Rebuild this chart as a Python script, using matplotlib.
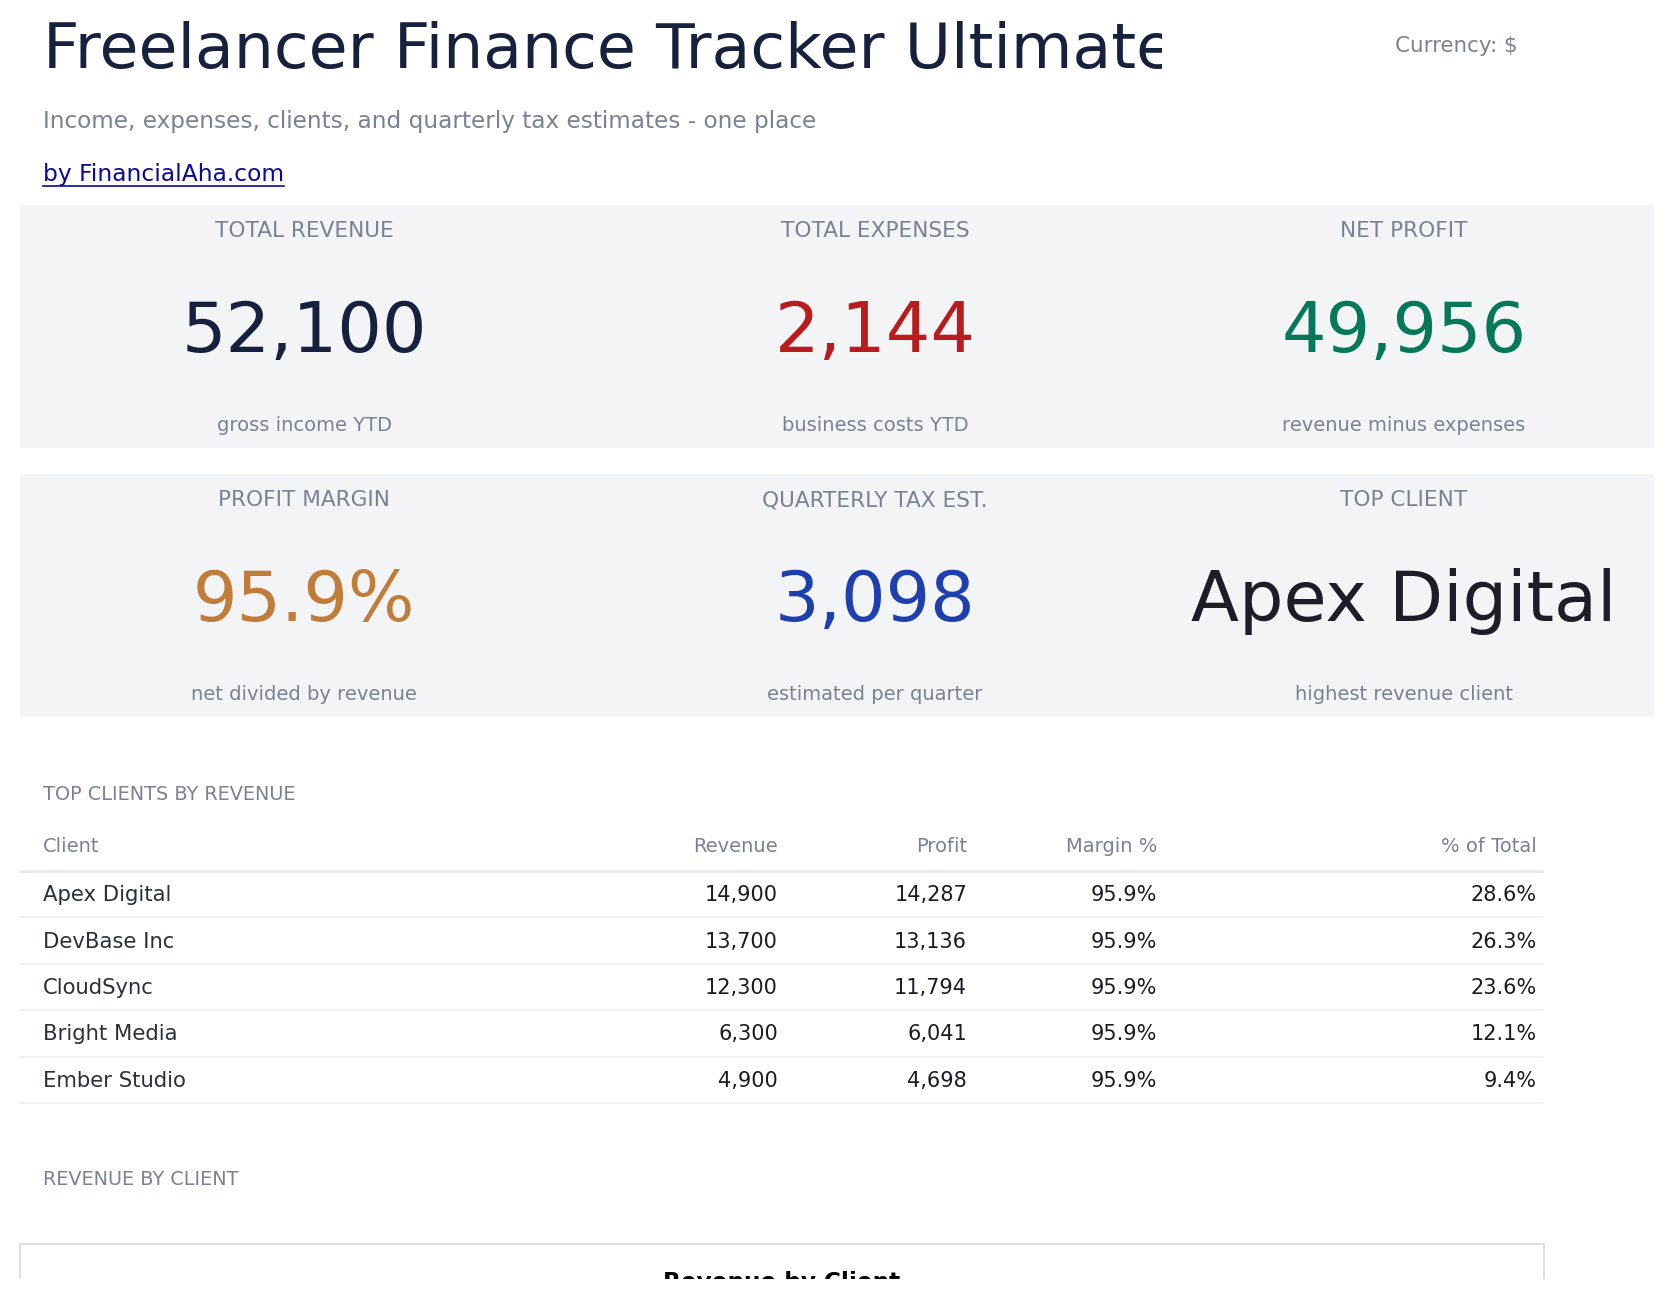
import matplotlib
matplotlib.use("Agg")
import matplotlib.pyplot as plt
import matplotlib.patches as patches

# KPI cards
kpi_labels = ["TOTAL REVENUE", "TOTAL EXPENSES", "NET PROFIT",
              "PROFIT MARGIN", "QUARTERLY TAX EST.", "TOP CLIENT"]
kpi_values = ["52,100", "2,144", "49,956", "95.9%", "3,098", "Apex Digital"]
kpi_notes = ["gross income YTD", "business costs YTD", "revenue minus expenses",
             "net divided by revenue", "estimated per quarter", "highest revenue client"]
kpi_colors = ["#16213e", "#b91c1c", "#047857", "#c27c3a", "#1e40af", "#1c1d26"]

# top clients table
clients = ["Apex Digital", "DevBase Inc", "CloudSync", "Bright Media", "Ember Studio"]
revenue = [14900, 13700, 12300, 6300, 4900]
profit = [14287, 13136, 11794, 6041, 4698]
margin = [95.9, 95.9, 95.9, 95.9, 95.9]
share = [28.6, 26.3, 23.6, 12.1, 9.4]
headers = ["Client", "Revenue", "Profit", "Margin %", "% of Total"]

W, H = 1669, 1299
fig = plt.figure(figsize=(W / 100, H / 100), dpi=100)
ax = fig.add_axes([0, 0, 1, 1])
ax.set_xlim(0, W)
ax.set_ylim(H, 0)
ax.axis('off')

GRAY = "#7a8194"

# header - title is cut off on the right like in the page
ax.text(43, 68, "Freelancer Finance Tracker Ultimate", fontsize=45.5,
        color="#16213e", va='baseline', ha='left')
ax.add_patch(patches.Rectangle((1162, 0), 130, 100, facecolor='white',
                               edgecolor='none', zorder=5))
ax.text(1517, 52, "Currency: $", fontsize=15.4, color=GRAY, ha='right', va='baseline')
ax.text(43, 128, "Income, expenses, clients, and quarterly tax estimates - one place",
        fontsize=16.7, color=GRAY, va='baseline')
link = ax.text(43, 181, "by FinancialAha.com", fontsize=16.8, color="#0a0a96", va='baseline')
fig.canvas.draw()
bb = link.get_window_extent(fig.canvas.get_renderer())
ax.plot([43, 43 + bb.width], [186, 186], color="#0a0a96", lw=1.2)

# KPI panels
col_x = [304, 875, 1404]
row_top = [205, 474]
for r, top in enumerate(row_top):
    ax.add_patch(patches.Rectangle((20, top), 1634, 243, facecolor="#f3f4f6",
                                   edgecolor='none', zorder=0))
    for c, cx in enumerate(col_x):
        i = r * 3 + c
        ax.text(cx, top + 32, kpi_labels[i], fontsize=15.6, color=GRAY,
                ha='center', va='baseline')
        ax.text(cx, top + 147, kpi_values[i], fontsize=50.5, color=kpi_colors[i],
                ha='center', va='baseline')
        ax.text(cx, top + 226, kpi_notes[i], fontsize=14, color=GRAY,
                ha='center', va='baseline')

# table
ax.text(43, 800, "TOP CLIENTS BY REVENUE", fontsize=13.9, color=GRAY, va='baseline')
col_right = [None, 778, 967, 1157, 1537]
ax.text(43, 852, headers[0], fontsize=14, color=GRAY, va='baseline')
for h, xr in zip(headers[1:], col_right[1:]):
    ax.text(xr, 852, h, fontsize=14, color=GRAY, ha='right', va='baseline')
ax.plot([20, 1542], [871, 871], color="#e5e7eb", lw=2)

row_h = 46.5
for k, name in enumerate(clients):
    yb = 901 + k * row_h
    ax.text(43, yb, name, fontsize=15.2, color="#2a2f3a", va='baseline')
    cells = [f"{revenue[k]:,}", f"{profit[k]:,}", f"{margin[k]:.1f}%", f"{share[k]:.1f}%"]
    for txt, xr in zip(cells, col_right[1:]):
        ax.text(xr, yb, txt, fontsize=15, color="#1a1c22", ha='right', va='baseline')
    ly = 917 + k * row_h
    ax.plot([20, 1542], [ly, ly], color="#eceef1", lw=1.3)

# revenue by client chart box (cut off at the bottom)
ax.text(43, 1185, "REVENUE BY CLIENT", fontsize=13.9, color=GRAY, va='baseline')
ax.add_patch(patches.Rectangle((20, 1244), 1524, 120, facecolor='white',
                               edgecolor="#d9d9d9", lw=1.2))
ax.text(782, 1289, "Revenue by Client", fontsize=16.7, fontweight='bold',
        color="black", ha='center', va='baseline')
ax.add_patch(patches.Rectangle((0, 1279), W, 30, facecolor='white',
                               edgecolor='none', zorder=10))

fig.savefig("out.png", dpi=100)
plt.close(fig)
